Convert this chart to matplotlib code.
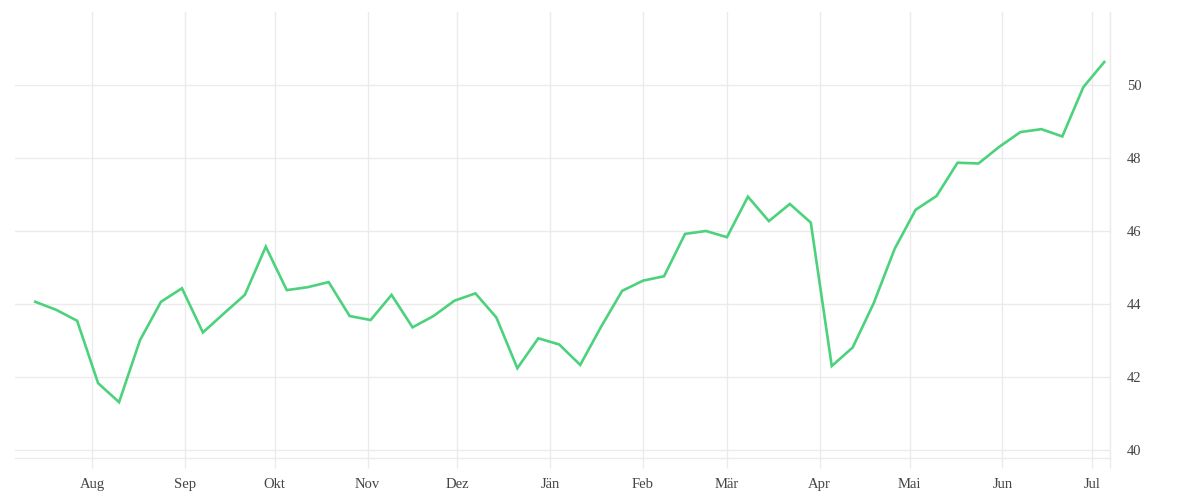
import matplotlib
matplotlib.use("Agg")
import matplotlib.pyplot as plt
import pandas as pd

# ---- data ----
start_date = "2022-07-13"
values = [44.06, 43.84, 43.54, 41.83, 41.31, 43.01, 44.06, 44.43, 43.22, 43.74,
          44.25, 45.57, 44.38, 44.46, 44.60, 43.67, 43.56, 44.25, 43.36, 43.67,
          44.09, 44.29, 43.63, 42.24, 43.06, 42.89, 42.33, 43.38, 44.36, 44.64,
          44.76, 45.92, 46.00, 45.83, 46.94, 46.27, 46.74, 46.23, 42.30, 42.81,
          44.02, 45.51, 46.58, 46.96, 47.87, 47.85, 48.31, 48.71, 48.79, 48.59,
          49.94, 50.63]
month_starts = ["2022-08-01", "2022-09-01", "2022-10-01", "2022-11-01", "2022-12-01",
                "2023-01-01", "2023-02-01", "2023-03-01", "2023-04-01", "2023-05-01",
                "2023-06-01", "2023-07-01"]
month_labels = ["Aug", "Sep", "Okt", "Nov", "Dez", "Jän", "Feb", "Mär", "Apr", "Mai",
                "Jun", "Jul"]
y_ticks = [40, 42, 44, 46, 48, 50]

dates = pd.date_range(start_date, periods=len(values), freq="7D")
tick_dates = pd.to_datetime(month_starts)

grid_c = "#ebebeb"
text_c = "#444444"
line_c = "#4cd27c"

fig = plt.figure(figsize=(12, 5), dpi=100)
ax = fig.add_axes([0.0125, 0.084, 0.9125, 0.892])

ax.plot(dates, values, color=line_c, linewidth=1.9, solid_joinstyle="miter", zorder=3)

x0 = pd.Timestamp("2022-07-06 06:00")
x1 = pd.Timestamp("2023-07-06 22:00")
ax.set_xlim(x0, x1)
ax.set_ylim(39.78, 52.0)

ax.set_xticks(list(tick_dates) + [x1])
ax.set_xticklabels(month_labels + [""])
ax.set_yticks(y_ticks)
ax.set_yticklabels([str(v) for v in y_ticks])

ax.yaxis.tick_right()
ax.grid(True, color=grid_c, linewidth=1.0, zorder=0)
for s in ["top", "left"]:
    ax.spines[s].set_visible(False)
for s in ["bottom", "right"]:
    ax.spines[s].set_color(grid_c)
    ax.spines[s].set_linewidth(1.0)

ax.tick_params(axis="x", length=7.2, width=1.0, color=grid_c, pad=7.5,
               labelsize=10.5, labelcolor=text_c)
ax.tick_params(axis="y", length=0, pad=12, labelsize=10.5, labelcolor=text_c)
for lab in ax.get_xticklabels() + ax.get_yticklabels():
    lab.set_family("Liberation Serif")

fig.savefig("out.png", dpi=100)
